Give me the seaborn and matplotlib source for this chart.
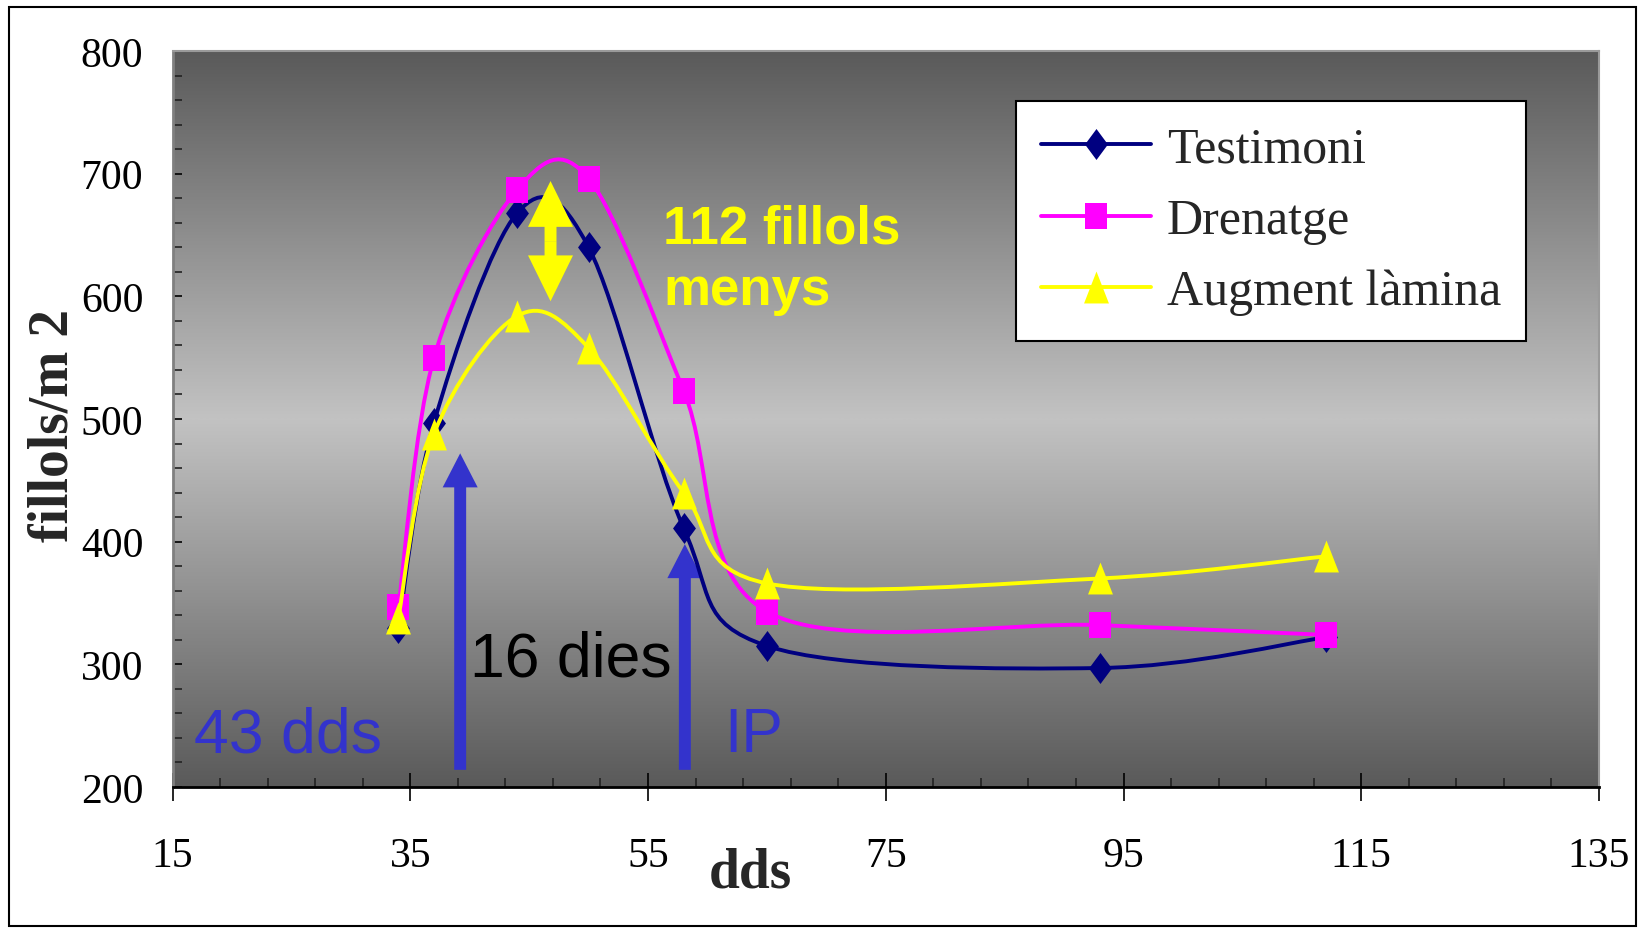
import numpy as np
import pandas as pd
import matplotlib
matplotlib.use("Agg")
import matplotlib.pyplot as plt
import seaborn as sns
from matplotlib.path import Path
from matplotlib.patches import PathPatch, Rectangle
from matplotlib.lines import Line2D
from matplotlib.ticker import FixedLocator, MultipleLocator
from matplotlib.colors import LinearSegmentedColormap

# ---------------- data ----------------
dds = [34, 37, 44, 50, 58, 65, 93, 112]
testimoni = [330, 497, 668, 640, 411, 315, 297, 322]
drenatge = [347, 550, 687, 696, 523, 343, 332, 324]
augment = [338, 488, 584, 558, 440, 366, 370, 388]
series_names = ["Testimoni", "Drenatge", "Augment làmina"]
x_ticks = [15, 35, 55, 75, 95, 115, 135]
y_ticks = [200, 300, 400, 500, 600, 700, 800]

colors = ["#000080", "#ff00ff", "#ffff00"]
marker_diamond = [(0, 1), (0.74, 0), (0, -1), (-0.74, 0), (0, 1)]
marker_square = [(-0.78, -1), (0.78, -1), (0.78, 1), (-0.78, 1), (-0.78, -1)]
marker_triangle = [(-0.78, -1), (0.78, -1), (0, 1), (-0.78, -1)]
markers = [marker_diamond, marker_square, marker_triangle]
msizes = [22.3, 19.4, 23.0]

sns.set_style("white")
plt.rcParams["font.family"] = ["Liberation Serif", "DejaVu Serif"]

fig = plt.figure(figsize=(16.39, 9.29), dpi=100)
ax = fig.add_axes([172.5 / 1639, 1 - 788 / 929, (1599 - 172.5) / 1639, (788 - 52) / 929])

# gradient background of the plot area
grad = 1 - np.abs(np.linspace(-1, 1, 256))
cmap = LinearSegmentedColormap.from_list("g", ["#5a5a5a", "#c2c2c2"])
ax.imshow(np.column_stack([grad, grad]), cmap=cmap, extent=[15, 135, 200, 800],
          aspect="auto", origin="lower", interpolation="bilinear", zorder=0)


def smooth_path(xs, ys):
    pts = np.column_stack([xs, ys]).astype(float)
    n = len(pts)
    verts = [pts[0]]
    codes = [Path.MOVETO]
    for i in range(n - 1):
        p0 = pts[i - 1] if i > 0 else pts[i]
        p1 = pts[i]
        p2 = pts[i + 1]
        p3 = pts[i + 2] if i + 2 < n else pts[i + 1]
        verts += [p1 + (p2 - p0) / 6.0, p2 - (p3 - p1) / 6.0, p2]
        codes += [Path.CURVE4] * 3
    return Path(verts, codes)


# arrows (below the lines)
blue = "#3333cc"
for ax_x, tip in [(39.2, 472), (58.1, 398)]:
    ax.annotate("", xy=(ax_x, tip), xytext=(ax_x, 214),
                arrowprops=dict(arrowstyle="simple,head_length=24.5,head_width=25.2,tail_width=8.6",
                                mutation_scale=1, color=blue, shrinkA=0, shrinkB=0, lw=0),
                zorder=2)

for i, (name, vals) in enumerate(zip(series_names, [testimoni, drenatge, augment])):
    patch = PathPatch(smooth_path(dds, vals), fill=False, edgecolor=colors[i], lw=2.8,
                      zorder=3 + i, joinstyle="round", capstyle="round")
    ax.add_patch(patch)
    df = pd.DataFrame({"dds": dds, "fillols": vals})
    sns.lineplot(data=df, x="dds", y="fillols", ax=ax, color=colors[i], linestyle="none",
                 marker=markers[i], markersize=msizes[i], markeredgewidth=0, zorder=3.5 + i)

# yellow double arrow
for tip in [694, 596]:
    ax.annotate("", xy=(46.8, tip), xytext=(46.8, 645),
                arrowprops=dict(arrowstyle="simple,head_length=33,head_width=32.4,tail_width=8.6",
                                mutation_scale=1, color="#ffff00", shrinkA=0, shrinkB=0, lw=0),
                zorder=10)

# annotations
ax.text(16.8, 229, "43 dds", fontsize=45, color=blue, family="Liberation Sans",
        va="baseline", ha="left", zorder=8)
ax.text(40.0, 291, "16 dies", fontsize=45, color="black", family="Liberation Sans",
        va="baseline", ha="left", zorder=8)
ax.text(61.4, 229, "IP", fontsize=45, color=blue, family="Liberation Sans",
        va="baseline", ha="left", zorder=8)
ax.text(56.3, 644, "112 fillols", fontsize=38, color="#ffff00", fontweight="bold",
        family="Liberation Sans", va="baseline", ha="left", zorder=8)
ax.text(56.3, 593.5, "menys", fontsize=38, color="#ffff00", fontweight="bold",
        family="Liberation Sans", va="baseline", ha="left", zorder=8)

# axes
ax.set_xlim(15, 135)
ax.set_ylim(200, 800)
ax.xaxis.set_major_locator(FixedLocator(x_ticks))
ax.xaxis.set_minor_locator(FixedLocator(list(np.arange(15, 136, 4))))
ax.yaxis.set_major_locator(FixedLocator(y_ticks))
ax.yaxis.set_minor_locator(MultipleLocator(20))
ax.set_xticklabels([str(t) for t in x_ticks])
ax.set_yticklabels([str(t) for t in y_ticks])
ax.tick_params(axis="x", which="major", direction="inout", length=19.5, width=1.2,
               pad=26, labelsize=30, colors="black", bottom=True, top=False)
ax.tick_params(axis="x", which="minor", direction="in", length=6.5, width=1.2,
               bottom=True, top=False, colors="#222222")
ax.tick_params(axis="y", which="both", direction="in", length=6.5, width=1.2,
               pad=21, labelsize=30, colors="black", left=True, right=False)
ax.tick_params(axis="y", which="minor", colors="#222222")

ax.set_xlabel("dds", fontsize=40, fontweight="bold")
ax.xaxis.set_label_coords(0.405, -0.0815)
ax.set_ylabel("fillols/m 2", fontsize=40, fontweight="bold")
ax.yaxis.set_label_coords(-0.065, 0.493)

for side in ["top", "right"]:
    ax.spines[side].set_color("#9a9a9a")
    ax.spines[side].set_linewidth(1.5)
ax.spines["left"].set_color("#808080")
ax.spines["left"].set_linewidth(2)
ax.spines["bottom"].set_color("black")
ax.spines["bottom"].set_linewidth(2)

# legend
handles = [Line2D([], [], color=colors[i], lw=2.8, marker=markers[i], markersize=msizes[i],
                  markeredgewidth=0) for i in range(3)]
leg = ax.legend(handles, series_names, loc="upper left",
                bbox_to_anchor=(1016 / 1639, 1 - 102 / 929), bbox_transform=fig.transFigure,
                prop={"family": "Liberation Serif", "size": 36}, frameon=True, fancybox=False,
                framealpha=1, facecolor="white", edgecolor="black", borderpad=0.5,
                handlelength=2.2, handletextpad=0.32, labelspacing=0.5, borderaxespad=0)
leg.get_frame().set_linewidth(1.5)
leg.set_zorder(20)

# outer border
fig.add_artist(Rectangle((9 / 1639, 2 / 929), 1627 / 1639, 919 / 929, transform=fig.transFigure,
                         fill=False, edgecolor="black", lw=1.5))

fig.savefig("out.png", dpi=100, facecolor="white")
